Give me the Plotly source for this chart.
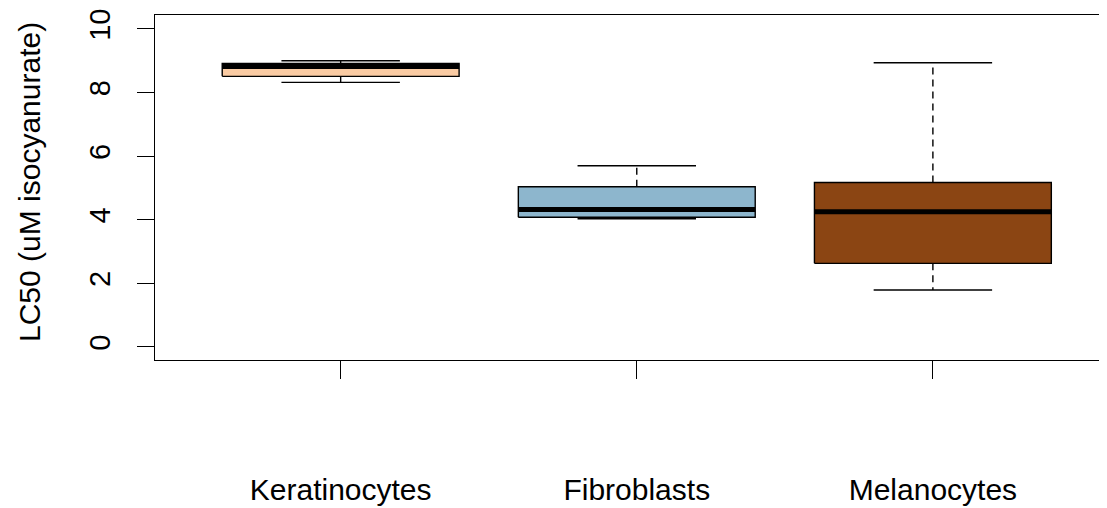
import plotly.graph_objects as go

categories = ["Keratinocytes", "Fibroblasts", "Melanocytes"]
positions = [1, 2, 3]
lower_whisker = [8.32, 4.03, 1.79]
q1 = [8.51, 4.08, 2.63]
median = [8.82, 4.32, 4.25]
q3 = [8.92, 5.04, 5.17]
upper_whisker = [9.00, 5.70, 8.94]
fill_colors = ["#FACBA3", "#8DB6CD", "#8B4513"]
y_ticks = [0, 2, 4, 6, 8, 10]

BOX_HALF = 0.4
CAP_HALF = 0.2
LW = 1.4

fig = go.Figure()

for i, cat in enumerate(categories):
    c = positions[i]
    # dashed whiskers
    fig.add_trace(go.Scatter(
        x=[c, c, None, c, c],
        y=[q3[i], upper_whisker[i], None, q1[i], lower_whisker[i]],
        mode="lines", line=dict(color="black", width=LW, dash="7px,5px"),
        hoverinfo="skip", showlegend=False))
    # caps
    fig.add_trace(go.Scatter(
        x=[c - CAP_HALF, c + CAP_HALF, None, c - CAP_HALF, c + CAP_HALF],
        y=[upper_whisker[i], upper_whisker[i], None, lower_whisker[i], lower_whisker[i]],
        mode="lines", line=dict(color="black", width=LW),
        hoverinfo="skip", showlegend=False))
    # box
    fig.add_trace(go.Scatter(
        x=[c - BOX_HALF, c + BOX_HALF, c + BOX_HALF, c - BOX_HALF, c - BOX_HALF],
        y=[q1[i], q1[i], q3[i], q3[i], q1[i]],
        mode="lines", fill="toself", fillcolor=fill_colors[i],
        line=dict(color="black", width=LW),
        hoverinfo="skip", showlegend=False, name=cat))
    # median
    fig.add_trace(go.Scatter(
        x=[c - BOX_HALF, c + BOX_HALF],
        y=[median[i], median[i]],
        mode="lines", line=dict(color="black", width=5),
        hoverinfo="skip", showlegend=False))

font_family = "Liberation Sans, Arial, sans-serif"

fig.update_layout(
    width=1099, height=500,
    margin=dict(l=147, r=0, t=7, b=148),
    paper_bgcolor="white", plot_bgcolor="white",
    font=dict(family=font_family, size=30, color="black"),
    xaxis=dict(
        range=[0.373, 3.588],
        tickmode="array", tickvals=positions, ticktext=categories,
        showgrid=False, zeroline=False,
        showline=True, mirror=True, linecolor="black", linewidth=LW,
        ticks="outside", ticklen=18, tickwidth=LW, tickcolor="black",
        ticklabelstandoff=85,
        tickfont=dict(size=30, family=font_family, color="black"),
    ),
    yaxis=dict(
        range=[-0.41, 10.44],
        tickmode="array", tickvals=y_ticks, ticktext=[str(v) for v in y_ticks],
        showgrid=False, zeroline=False,
        showline=True, mirror=False, linecolor="black", linewidth=LW,
        ticks="outside", ticklen=17, tickwidth=LW, tickcolor="black",
        tickangle=-90, ticklabelstandoff=15,
        tickfont=dict(size=29, family=font_family, color="black"),
    ),
    annotations=[dict(
        text="LC50 (uM isocyanurate)", textangle=-90,
        xref="paper", yref="paper", x=-0.1313, y=0.516,
        xanchor="center", yanchor="middle", showarrow=False,
        font=dict(size=30, family=font_family, color="black"))],
)

fig.write_html("out.html")
